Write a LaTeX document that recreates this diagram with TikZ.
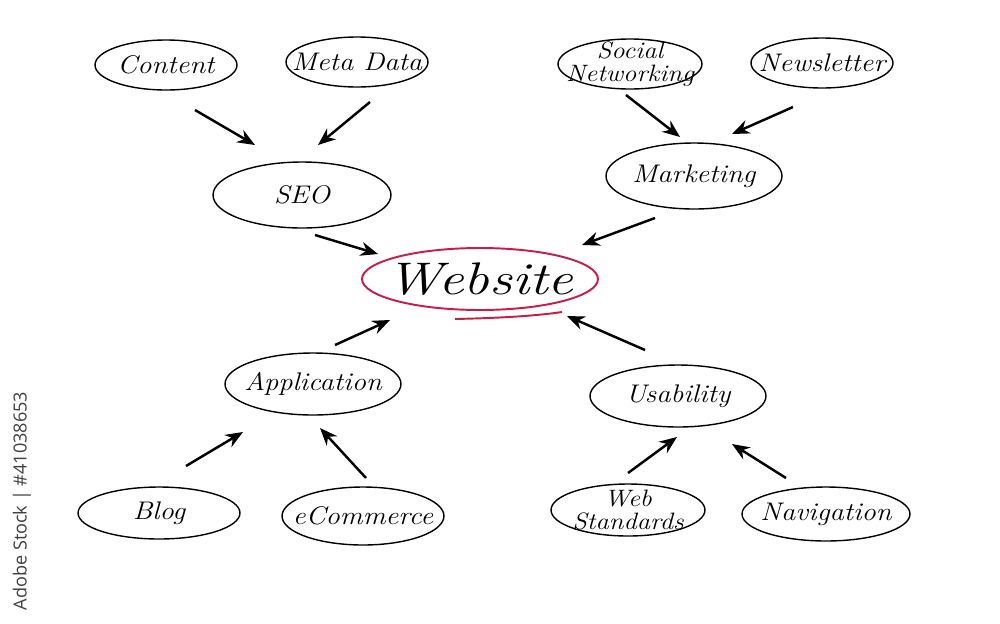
\documentclass[tikz,border=0pt]{standalone}
\usepackage{fontspec}
\newfontfamily\wmfont{Open Sans}
\usetikzlibrary{shapes.geometric,arrows.meta}
\definecolor{webred}{RGB}{200,30,70}
\newcommand{\wide}[1]{\scalebox{1.12}[1]{#1}}
\tikzset{
  bub/.style={draw=black, line width=0.8pt, ellipse, inner sep=0pt},
  lab/.style={inner sep=0pt, font=\itshape\fontsize{14.5}{13}\selectfont, align=center},
  lab2/.style={lab, font=\itshape\fontsize{13.5}{12.6}\selectfont},
  arr/.style={draw=black, line width=1.4pt, -{Stealth[length=10pt,width=8pt]}}
}
\begin{document}
\begin{tikzpicture}[x=0.02cm,y=-0.02cm]
\useasboundingbox (0,0) rectangle (1000,623);
\fill[white] (0,0) rectangle (1000,623);
% ellipses
\node[bub, minimum width=2.84cm, minimum height=1.0cm] (content) at (166,65) {};
\node[bub, minimum width=2.84cm, minimum height=1.0cm] (meta) at (357,62) {};
\node[bub, minimum width=2.88cm, minimum height=1.0cm] (social) at (630,64) {};
\node[bub, minimum width=2.84cm, minimum height=1.0cm] (news) at (822,63) {};
\node[bub, minimum width=3.56cm, minimum height=1.32cm] (seo) at (302,195) {};
\node[bub, minimum width=3.52cm, minimum height=1.32cm] (mkt) at (694,176) {};
\node[bub, draw=webred, line width=1.1pt, minimum width=4.72cm, minimum height=1.24cm] (web) at (480,279) {};
\draw[webred, line width=1.1pt] (455,319) .. controls (500,318) and (535,316) .. (562,312);
\node[bub, minimum width=3.52cm, minimum height=1.24cm] (app) at (313,384) {};
\node[bub, minimum width=3.52cm, minimum height=1.24cm] (use) at (678,396) {};
\node[bub, minimum width=3.24cm, minimum height=1.04cm] (blog) at (159,513) {};
\node[bub, minimum width=3.24cm, minimum height=1.16cm] (ecom) at (363,516) {};
\node[bub, minimum width=3.08cm, minimum height=1.04cm] (wstd) at (628,510) {};
\node[bub, minimum width=3.36cm, minimum height=1.08cm] (nav) at (826,514) {};
% labels
\node[lab] (tcontent) at (content) {\wide{Content}};
\node[lab] (tmeta) at (meta) {\wide{Meta Data}};
\node[lab2] (tsocial) at (social) {\wide{Social}\\\wide{Networking}};
\node[lab] (tnews) at (news) {\wide{Newsletter}};
\node[lab] (tseo) at (seo) {\wide{SEO}};
\node[lab] (tmkt) at (mkt) {\wide{Marketing}};
\node[lab, font=\itshape\fontsize{26}{28}\selectfont] (tweb) at (web) {\scalebox{1.25}[1]{Website}};
\node[lab] (tapp) at (app) {\wide{Application}};
\node[lab] (tuse) at (use) {\wide{Usability}};
\node[lab] (tblog) at (blog) {\wide{Blog}};
\node[lab] (tecom) at (ecom) {\wide{eCommerce}};
\node[lab2] (twstd) at (wstd) {\wide{Web}\\\wide{Standards}};
\node[lab] (tnav) at (nav) {\wide{Navigation}};
% arrow end points
\coordinate (a1s) at (195,110); \coordinate (a1e) at (255,145);
\coordinate (a2s) at (370,102); \coordinate (a2e) at (318,145);
\coordinate (a3s) at (626,95);  \coordinate (a3e) at (680,137);
\coordinate (a4s) at (793,107); \coordinate (a4e) at (732,134);
\coordinate (a5s) at (315,235); \coordinate (a5e) at (378,254);
\coordinate (a6s) at (655,218); \coordinate (a6e) at (582,245);
\coordinate (a7s) at (335,345); \coordinate (a7e) at (390,320);
\coordinate (a8s) at (645,350); \coordinate (a8e) at (567,316);
\coordinate (a9s) at (186,466); \coordinate (a9e) at (243,432);
\coordinate (a10s) at (366,478); \coordinate (a10e) at (320,428);
\coordinate (a11s) at (628,473); \coordinate (a11e) at (677,437);
\coordinate (a12s) at (786,478); \coordinate (a12e) at (732,444);
\foreach \i in {1,...,12} \draw[arr] (a\i s) -- (a\i e);
% watermark
\node[rotate=90, text=black!75, font=\wmfont\fontsize{10.3}{12}\selectfont] (wm) at (22,501) {Adobe Stock | \#41038653};
\end{tikzpicture}
\end{document}
